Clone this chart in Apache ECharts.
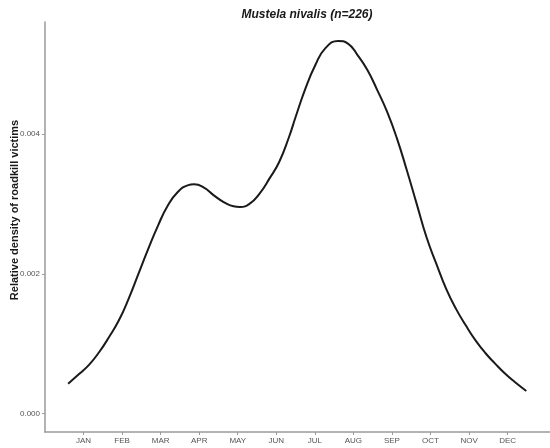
<!DOCTYPE html>
<html>
<head>
<meta charset="utf-8">
<script src="https://cdn.jsdelivr.net/npm/echarts@6/dist/echarts.min.js"></script>
<style>
  html, body { margin: 0; padding: 0; background: #fff; }
  #chart { width: 550px; height: 448px; }
</style>
</head>
<body>
<div id="chart"></div>
<script>
// Month position (JAN = 1 ... DEC = 12) and kernel density of roadkill dates
const monthPos = [0.600, 0.898, 1.153, 1.407, 1.662, 1.917, 2.171, 2.426, 2.681, 2.935,
  3.190, 3.444, 3.699, 3.870, 4.124, 4.379, 4.634, 4.888, 5.057, 5.311,
  5.566, 5.821, 6.075, 6.330, 6.501, 6.755, 7.010, 7.264, 7.603, 7.858,
  8.112, 8.367, 8.622, 8.876, 9.131, 9.386, 9.640, 9.895, 10.150, 10.404,
  10.659, 10.914, 11.168, 11.423, 11.677, 11.932, 12.187, 12.485];
const density = [0.000429, 0.000573, 0.000706, 0.000882, 0.001097, 0.001336, 0.001646, 0.002004, 0.002362, 0.002696,
  0.002982, 0.003172, 0.003268, 0.003283, 0.003235, 0.003125, 0.003029, 0.002968, 0.002958, 0.003006,
  0.003150, 0.003364, 0.003602, 0.003960, 0.004246, 0.004653, 0.004986, 0.005225, 0.005334, 0.005297,
  0.005129, 0.004915, 0.004628, 0.004318, 0.003937, 0.003483, 0.003006, 0.002528, 0.002147, 0.001790,
  0.001503, 0.001264, 0.001049, 0.000868, 0.000716, 0.000573, 0.000452, 0.000324];
const monthLabels = ['JAN', 'FEB', 'MAR', 'APR', 'MAY', 'JUN', 'JUL', 'AUG', 'SEP', 'OCT', 'NOV', 'DEC'];
const yTicks = [0, 0.002, 0.004];

const FONT = '"Liberation Sans", Arial, Helvetica, sans-serif';
const chart = echarts.init(document.getElementById('chart'));

chart.setOption({
  animation: false,
  backgroundColor: '#ffffff',
  title: {
    text: 'Mustela nivalis (n=226)',
    left: 302,
    textAlign: 'center',
    top: 4,
    textStyle: { fontFamily: FONT, fontSize: 12, fontWeight: 'bold', fontStyle: 'italic', color: '#1a1a1a' }
  },
  graphic: [{
    type: 'text',
    x: 15,
    y: 210,
    rotation: Math.PI / 2,
    style: {
      text: 'Relative density of roadkill victims',
      font: 'bold 11px ' + FONT,
      fill: '#1a1a1a',
      align: 'center',
      verticalAlign: 'middle'
    }
  }],
  grid: { left: 45, right: -9, top: 22, bottom: 16, containLabel: false },
  xAxis: {
    type: 'value',
    min: 0,
    max: 13.1,
    interval: 1,
    axisLine: { show: true, onZero: false, lineStyle: { color: '#9a9a9a', width: 1.5 } },
    axisTick: {
      show: true, length: 3, lineStyle: { color: '#9a9a9a' },
      customValues: monthLabels.map((_, i) => i + 1)
    },
    axisLabel: {
      customValues: monthLabels.map((_, i) => i + 1),
      formatter: v => monthLabels[Math.round(v) - 1] || '',
      fontFamily: FONT, fontSize: 8, color: '#555555', margin: 5
    },
    splitLine: { show: false }
  },
  yAxis: {
    type: 'value',
    min: -0.000263,
    max: 0.005606,
    axisLine: { show: true, onZero: false, lineStyle: { color: '#9a9a9a', width: 1.5 } },
    axisTick: { show: true, length: 3, lineStyle: { color: '#9a9a9a' }, customValues: yTicks },
    axisLabel: {
      customValues: yTicks,
      formatter: v => v.toFixed(3),
      fontFamily: FONT, fontSize: 8, color: '#555555', margin: 5
    },
    splitLine: { show: false }
  },
  series: [{
    type: 'line',
    data: monthPos.map((m, i) => [m, density[i]]),
    smooth: 0.5,
    showSymbol: false,
    lineStyle: { color: '#1a1a1a', width: 2 }
  }]
});
</script>
</body>
</html>
